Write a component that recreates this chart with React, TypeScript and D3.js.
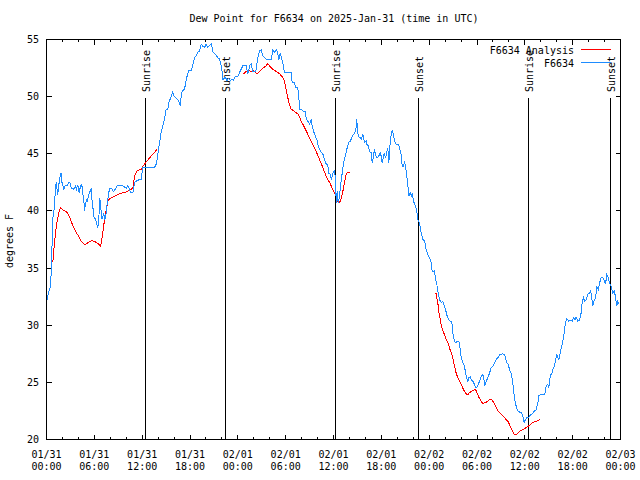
import React from 'react';
import * as d3 from 'd3';

const TITLE = 'Dew Point for F6634 on 2025-Jan-31 (time in UTC)';
const Y_LABEL = 'degrees F';
const START_UTC = Date.UTC(2025, 0, 31, 0, 0);
const SPAN_HOURS = 72;

// F6634 observations: hours since 2025-01-31 00:00 UTC, dew point (F)
const obsHours = [
  0, 0.25, 0.5, 0.59, 0.66, 0.79, 0.8, 1.0, 1.13, 1.25, 1.34, 1.42, 1.51, 1.63, 1.76, 1.92, 1.94, 2.04, 2.17, 2.35,
  2.6, 2.76, 2.92, 3.1, 3.3, 3.42, 3.64, 3.76, 3.93, 4.1, 4.27, 4.43, 4.52, 4.68, 4.77, 4.89, 5.02, 5.11, 5.18, 5.39,
  5.61, 5.68, 5.81, 5.93, 6.11, 6.27, 6.44, 6.56, 6.69, 6.81, 6.94, 7.06, 7.19, 7.28, 7.4, 7.53, 7.61, 7.69, 7.81, 7.94,
  8.12, 8.24, 8.4, 8.62, 8.87, 9.57, 10.0, 10.2, 10.41, 10.54, 10.83, 10.95, 11.04, 11.25, 11.67, 11.88, 11.95, 12.08, 13.55, 13.76,
  13.89, 14.05, 14.21, 14.39, 14.53, 14.8, 15.01, 15.22, 15.34, 15.52, 15.68, 15.84, 15.97, 16.18, 16.34, 16.6, 16.77, 16.9, 17.02, 17.31,
  17.6, 17.85, 18.15, 18.28, 18.56, 18.78, 18.98, 19.19, 19.41, 19.61, 19.82, 20.03, 20.23, 20.66, 20.79, 20.86, 21.29, 21.49, 21.7, 21.91,
  22.04, 22.11, 22.29, 22.45, 22.62, 22.87, 23.04, 23.29, 23.46, 23.62, 24.0, 24.21, 24.42, 24.62, 25.05, 25.13, 25.25, 25.38, 25.46, 25.68,
  25.88, 26.25, 26.38, 26.56, 26.72, 26.93, 27.13, 27.35, 27.56, 28.19, 28.39, 28.6, 28.81, 28.98, 29.14, 29.32, 29.44, 29.64, 29.85, 30.7,
  30.82, 31.11, 31.23, 31.52, 31.65, 31.74, 31.95, 32.24, 32.43, 32.58, 32.78, 32.99, 33.2, 33.33, 33.49, 33.74, 33.91, 34.08, 34.25, 34.46,
  34.66, 34.87, 35.09, 35.29, 35.41, 35.59, 35.75, 35.91, 36.13, 36.25, 36.34, 36.46, 36.59, 36.75, 36.88, 37.09, 37.26, 37.51, 37.67, 37.92,
  38.1, 38.35, 38.51, 38.67, 38.85, 38.92, 39.05, 39.17, 39.35, 39.47, 39.68, 39.8, 39.89, 40.1, 40.18, 40.39, 40.52, 40.73, 40.86, 41.02,
  41.14, 41.27, 41.43, 41.68, 41.86, 41.98, 42.11, 42.27, 42.4, 42.52, 42.69, 42.81, 42.94, 43.11, 43.24, 43.36, 43.53, 43.65, 43.87, 44.19,
  44.28, 44.49, 44.62, 44.78, 44.91, 45.03, 45.2, 45.32, 45.45, 45.62, 45.75, 45.87, 46.04, 46.29, 46.45, 46.57, 46.79, 47.0, 47.2, 47.42,
  47.63, 47.83, 48.04, 48.26, 48.38, 48.55, 48.67, 48.8, 48.96, 49.08, 49.21, 49.39, 49.55, 49.71, 49.84, 50.05, 50.21, 50.46, 50.64, 50.84,
  50.96, 51.18, 51.39, 51.52, 51.72, 51.89, 52.02, 52.22, 52.43, 52.65, 52.85, 52.97, 53.15, 53.27, 53.48, 53.69, 53.9, 54.1, 54.31, 54.53,
  54.73, 54.85, 54.98, 55.16, 55.36, 55.57, 55.78, 55.98, 56.2, 56.41, 56.61, 56.82, 57.24, 57.45, 57.58, 57.74, 57.92, 58.08, 58.29, 58.42,
  58.58, 58.71, 58.92, 59.12, 59.33, 59.55, 59.75, 59.92, 60.09, 60.25, 60.43, 60.59, 60.8, 61.0, 61.21, 61.43, 61.63, 61.76, 61.93, 62.47,
  62.59, 62.68, 62.88, 63.01, 63.1, 63.22, 63.35, 63.51, 63.72, 63.85, 64.01, 64.14, 64.26, 64.44, 64.56, 64.69, 64.85, 64.98, 65.1, 65.27,
  65.52, 65.69, 65.94, 66.11, 66.29, 66.44, 66.65, 66.86, 67.07, 67.2, 67.36, 67.49, 67.7, 67.9, 68.11, 68.24, 68.36, 68.53, 68.65, 68.87,
  69.03, 69.2, 69.37, 69.58, 69.78, 69.99, 70.12, 70.28, 70.46, 70.62, 70.83, 71.03, 71.25, 71.37, 71.54, 71.66, 71.79,
];
const obsDewPoint = [
  32.0, 32.8, 33.4, 34.6, 36.6, 37.8, 39.4, 40.4, 42.2, 42.5, 41.7, 41.4, 42.2, 42.6, 43.3, 43.2, 42.5, 42.3, 41.9, 42.2,
  42.2, 42.5, 42.5, 42.0, 42.0, 41.9, 42.2, 41.9, 42.3, 41.6, 42.2, 42.3, 41.7, 41.0, 40.0, 40.6, 41.0, 40.9, 41.1, 41.6,
  41.9, 41.1, 40.4, 39.5, 39.3, 39.0, 38.5, 39.3, 41.1, 40.3, 39.3, 39.5, 39.8, 39.3, 39.4, 40.1, 40.7, 41.0, 41.6, 42.0,
  42.0, 41.9, 41.7, 41.9, 42.2, 42.2, 42.0, 42.2, 41.9, 41.6, 41.6, 42.0, 42.5, 42.6, 42.75, 42.75, 43.2, 43.8, 43.8, 44.1,
  44.6, 45.4, 46.1, 46.9, 47.3, 48.0, 48.9, 48.9, 49.5, 49.8, 50.1, 50.4, 50.1, 49.9, 49.8, 49.6, 49.2, 50.1, 50.5, 50.65,
  51.7, 52.3, 52.3, 52.55, 53.4, 53.6, 53.9, 54.0, 54.6, 54.4, 54.3, 54.6, 54.3, 54.6, 54.3, 53.9, 53.6, 53.4, 53.3, 52.7,
  52.1, 51.5, 51.6, 51.7, 51.4, 51.6, 51.4, 51.5, 51.4, 51.7, 51.8, 52.1, 52.4, 52.7, 52.7, 52.4, 52.0, 52.3, 52.7, 52.85,
  52.2, 52.2, 52.85, 53.6, 54.0, 54.1, 53.6, 53.4, 53.25, 53.25, 54.1, 53.9, 54.1, 53.9, 53.25, 53.8, 53.5, 52.95, 52.1, 52.1,
  51.2, 51.2, 50.8, 50.8, 50.0, 48.9, 48.9, 48.7, 48.7, 48.1, 47.85, 47.6, 48.0, 47.4, 47.0, 46.5, 46.25, 45.7, 45.4, 45.1,
  45.0, 44.5, 44.1, 44.0, 43.3, 43.2, 42.75, 43.3, 43.5, 42.8, 40.7, 41.7, 40.7, 41.3, 42.2, 43.3, 44.2, 44.9, 45.4, 46.0,
  46.1, 46.5, 46.7, 46.8, 47.3, 48.0, 46.8, 46.5, 46.4, 46.25, 46.7, 46.3, 46.0, 46.1, 45.8, 45.7, 45.2, 45.1, 44.2, 44.8,
  45.4, 44.9, 44.65, 44.8, 45.1, 44.8, 44.2, 44.8, 45.1, 44.6, 45.2, 45.5, 44.2, 46.0, 46.7, 47.0, 46.7, 46.1, 45.8, 45.8,
  45.5, 44.9, 43.9, 43.9, 44.35, 43.9, 43.0, 42.3, 41.3, 41.6, 41.3, 41.5, 40.85, 40.4, 40.0, 39.25, 38.9, 38.1, 37.5, 37.4,
  36.6, 36.2, 35.9, 35.5, 34.7, 34.7, 34.8, 34.0, 33.6, 33.0, 32.5, 32.1, 32.0, 32.1, 31.8, 31.4, 30.9, 30.5, 30.35, 30.35,
  29.3, 28.6, 28.45, 28.6, 28.6, 27.9, 27.15, 26.7, 26.4, 25.5, 25.1, 25.4, 25.5, 25.25, 25.1, 24.8, 24.5, 24.7, 25.1, 25.5,
  25.7, 25.4, 24.7, 25.1, 25.4, 25.8, 26.3, 26.4, 26.7, 27.0, 27.15, 27.4, 27.5, 27.4, 27.15, 26.7, 26.6, 26.1, 25.8, 25.25,
  24.5, 23.5, 22.9, 22.5, 22.4, 22.4, 22.0, 21.5, 21.75, 21.9, 21.9, 22.05, 22.2, 22.3, 22.5, 22.6, 23.2, 23.85, 23.9, 23.9,
  24.2, 24.7, 24.8, 24.5, 25.1, 25.7, 25.7, 26.1, 26.4, 27.0, 27.4, 27.2, 27.0, 27.6, 28.0, 28.3, 28.9, 29.5, 30.3, 30.55,
  30.35, 30.45, 30.35, 30.65, 30.5, 30.7, 30.35, 30.45, 31.1, 32.1, 32.4, 32.1, 32.25, 32.7, 32.8, 33.0, 32.6, 31.7, 32.1, 32.4,
  33.4, 33.1, 33.7, 34.15, 34.15, 33.85, 33.6, 34.4, 34.15, 33.7, 33.4, 32.8, 33.0, 32.4, 31.7, 32.1, 31.9,
];

// F6634 Analysis: NaN marks a gap between segments
const anaHours = [
  0.79, 0.92, 1.09, 1.25, 1.42, 1.63, 1.76, 2.04, 2.35, 2.67, 2.89, 3.1, 3.3, 3.51, 3.73, 3.93, 4.14, 4.35, 4.68, 4.98,
  5.27, 5.61, 5.93, 6.23, 6.52, 6.77, 6.94, 7.06, 7.19, 7.36, 7.49, 7.69, 7.9, 8.32, 8.74, 9.16, 9.57, 10.0, 10.41, 10.83,
  10.95, 11.13, 11.38, 11.67, 11.88, 12.08, 12.29, 12.71, 13.13, 13.55, 13.84,
  20.0,
  24.71, 25.05, 25.38, 25.68, 25.88, 26.09, 26.38, 26.72, 27.13, 27.56, 27.76, 27.97, 28.39, 28.81, 29.23, 29.64, 29.85, 30.07, 30.27, 30.48,
  30.7, 31.11, 31.52, 31.74, 31.95, 32.15, 32.58, 32.99, 33.4, 33.83, 34.25, 34.66, 35.09, 35.5, 35.91, 36.25, 36.42, 36.59, 36.75, 36.97,
  37.17, 37.38, 37.59, 37.8, 38.01,
  44.0,
  48.67, 48.88, 48.96, 49.08, 49.21, 49.39, 49.55, 49.71, 49.92, 50.14, 50.34, 50.55, 50.77, 50.96, 51.18, 51.39, 51.59, 51.81, 52.02, 52.22,
  52.43, 52.65, 52.85, 53.06, 53.48, 53.81, 54.1, 54.31, 54.53, 54.73, 55.16, 55.57, 55.78, 55.98, 56.2, 56.41, 56.61, 57.04, 57.45, 57.87,
  58.08, 58.29, 58.71, 58.96, 59.33, 59.84, 60.38, 60.71, 61.0, 61.43, 61.93,
];
const anaDewPoint = [
  35.5, 36.6, 37.8, 38.8, 39.4, 40.1, 40.3, 40.1, 40.0, 39.8, 39.5, 39.1, 38.7, 38.4, 38.1, 37.9, 37.6, 37.35, 37.1, 37.1,
  37.25, 37.4, 37.35, 37.25, 37.1, 36.9, 37.5, 38.1, 38.8, 39.5, 40.1, 40.85, 41.05, 41.2, 41.35, 41.5, 41.6, 41.65, 41.8, 42.0,
  42.6, 43.2, 43.55, 43.6, 43.6, 43.9, 44.1, 44.45, 44.8, 45.1, 45.4,
  NaN,
  52.0, 52.2, 52.3, 52.2, 52.3, 52.2, 52.0, 52.2, 52.5, 52.7, 52.9, 52.7, 52.4, 52.2, 52.0, 51.7, 51.35, 50.6, 49.9, 49.3,
  48.9, 48.7, 48.5, 48.2, 47.85, 47.6, 47.0, 46.4, 45.8, 45.2, 44.5, 43.8, 43.0, 42.5, 41.9, 41.4, 41.1, 40.75, 40.7, 41.1,
  41.7, 42.5, 43.2, 43.4, 43.4,
  NaN,
  32.8, 32.8, 32.4, 32.0, 31.2, 30.5, 29.9, 29.5, 29.2, 28.75, 28.5, 28.0, 27.6, 27.15, 26.4, 25.8, 25.4, 25.1, 24.8, 24.5,
  24.2, 24.0, 23.9, 24.1, 24.3, 24.4, 23.9, 23.6, 23.35, 23.15, 23.25, 23.5, 23.55, 23.35, 23.1, 22.8, 22.5, 22.2, 21.9, 21.6,
  21.3, 21.0, 20.4, 20.45, 20.7, 20.9, 21.15, 21.3, 21.5, 21.6, 21.75,
];

const sunHours = [12.36, 22.45, 36.25, 46.58, 60.38, 70.66];
const sunLabels = ['Sunrise', 'Sunset', 'Sunrise', 'Sunset', 'Sunrise', 'Sunset'];
const sunLineTop = 49.85;
const yTicks = [20, 25, 30, 35, 40, 45, 50, 55];
const seriesNames = ['F6634 Analysis', 'F6634'];
const seriesColors = ['#ff0000', '#1e8cff'];

const FONT = '"DejaVu Sans Mono", "Liberation Mono", monospace';
const H = 3600 * 1000;

export default function App() {
  const left = 46.5, right = 620.5, top = 39.5, bottom = 439.5;
  const x = d3.scaleUtc().domain([new Date(START_UTC), new Date(START_UTC + SPAN_HOURS * H)]).range([left, right]);
  const y = d3.scaleLinear().domain([20, 55]).range([bottom, top]);
  const toDate = (h: number) => new Date(START_UTC + h * H);

  const obs = obsHours.map((h, i) => ({ t: toDate(h), v: obsDewPoint[i] }));
  const ana = anaHours.map((h, i) => ({ t: toDate(h), v: anaDewPoint[i] }));
  const line = d3
    .line<{ t: Date; v: number }>()
    .defined((d) => !isNaN(d.v))
    .x((d) => x(d.t))
    .y((d) => y(d.v));

  const ticks = x.ticks(d3.utcHour.every(2) as any);
  const fmtDay = d3.utcFormat('%m/%d');
  const fmtTime = d3.utcFormat('%H:%M');

  return (
    <svg
      width={640}
      height={480}
      style={{ position: 'absolute', left: 0, top: 0, background: '#fff' }}
      fontFamily={FONT}
      fontSize={10}
    >
      <rect x={0} y={0} width={640} height={480} fill="#fff" />
      <text x={334} y={22} textAnchor="middle" fill="#000">{TITLE}</text>
      <text transform={`translate(13,241) rotate(-90)`} textAnchor="middle" fill="#000">{Y_LABEL}</text>

      {/* y ticks */}
      <g shapeRendering="crispEdges" stroke="#000">
        {yTicks.map((t) => (
          <g key={t}>
            <line x1={left} x2={left + 5} y1={Math.round(y(t) - 0.5) + 0.5} y2={Math.round(y(t) - 0.5) + 0.5} />
            <line x1={right} x2={right - 5} y1={Math.round(y(t) - 0.5) + 0.5} y2={Math.round(y(t) - 0.5) + 0.5} />
          </g>
        ))}
      </g>
      {yTicks.map((t) => (
        <text key={'yl' + t} x={39} y={y(t) + 3.5} textAnchor="end" fill="#000">{t}</text>
      ))}

      {/* x ticks */}
      <g shapeRendering="crispEdges" stroke="#000">
        {ticks.map((d) => {
          const major = d.getUTCHours() % 6 === 0;
          const len = major ? 5 : 2.5;
          const px = Math.round(x(d) - 0.5) + 0.5;
          return (
            <g key={+d}>
              <line x1={px} x2={px} y1={bottom} y2={bottom - len} />
              <line x1={px} x2={px} y1={top} y2={top + len} />
            </g>
          );
        })}
      </g>
      {ticks
        .filter((d) => d.getUTCHours() % 6 === 0)
        .map((d) => (
          <g key={'xl' + +d}>
            <text x={x(d)} y={458} textAnchor="middle" fill="#000">{fmtDay(d)}</text>
            <text x={x(d)} y={470} textAnchor="middle" fill="#000">{fmtTime(d)}</text>
          </g>
        ))}

      {/* sunrise / sunset markers */}
      {sunHours.map((h, i) => {
        const px = Math.round(x(toDate(h))) + 0.5;
        return (
          <g key={'sun' + i}>
            <line x1={px} x2={px} y1={bottom} y2={y(sunLineTop)} stroke="#000" shapeRendering="crispEdges" />
            <text transform={`translate(${px + 4},92) rotate(-90)`} textAnchor="start" fill="#000">{sunLabels[i]}</text>
          </g>
        );
      })}

      {/* data */}
      <path d={line(ana) || ''} fill="none" stroke={seriesColors[0]} strokeWidth={1} shapeRendering="crispEdges" />
      <path d={line(obs) || ''} fill="none" stroke={seriesColors[1]} strokeWidth={1} shapeRendering="crispEdges" />

      {/* legend */}
      {seriesNames.map((n, i) => (
        <g key={'lg' + i}>
          <text x={574} y={53.5 + i * 13} textAnchor="end" fill="#000">{n}</text>
          <line x1={581} x2={611} y1={49.5 + i * 13} y2={49.5 + i * 13} stroke={seriesColors[i]} shapeRendering="crispEdges" />
        </g>
      ))}

      {/* border */}
      <rect x={left} y={top} width={right - left} height={bottom - top} fill="none" stroke="#000" shapeRendering="crispEdges" />
    </svg>
  );
}
